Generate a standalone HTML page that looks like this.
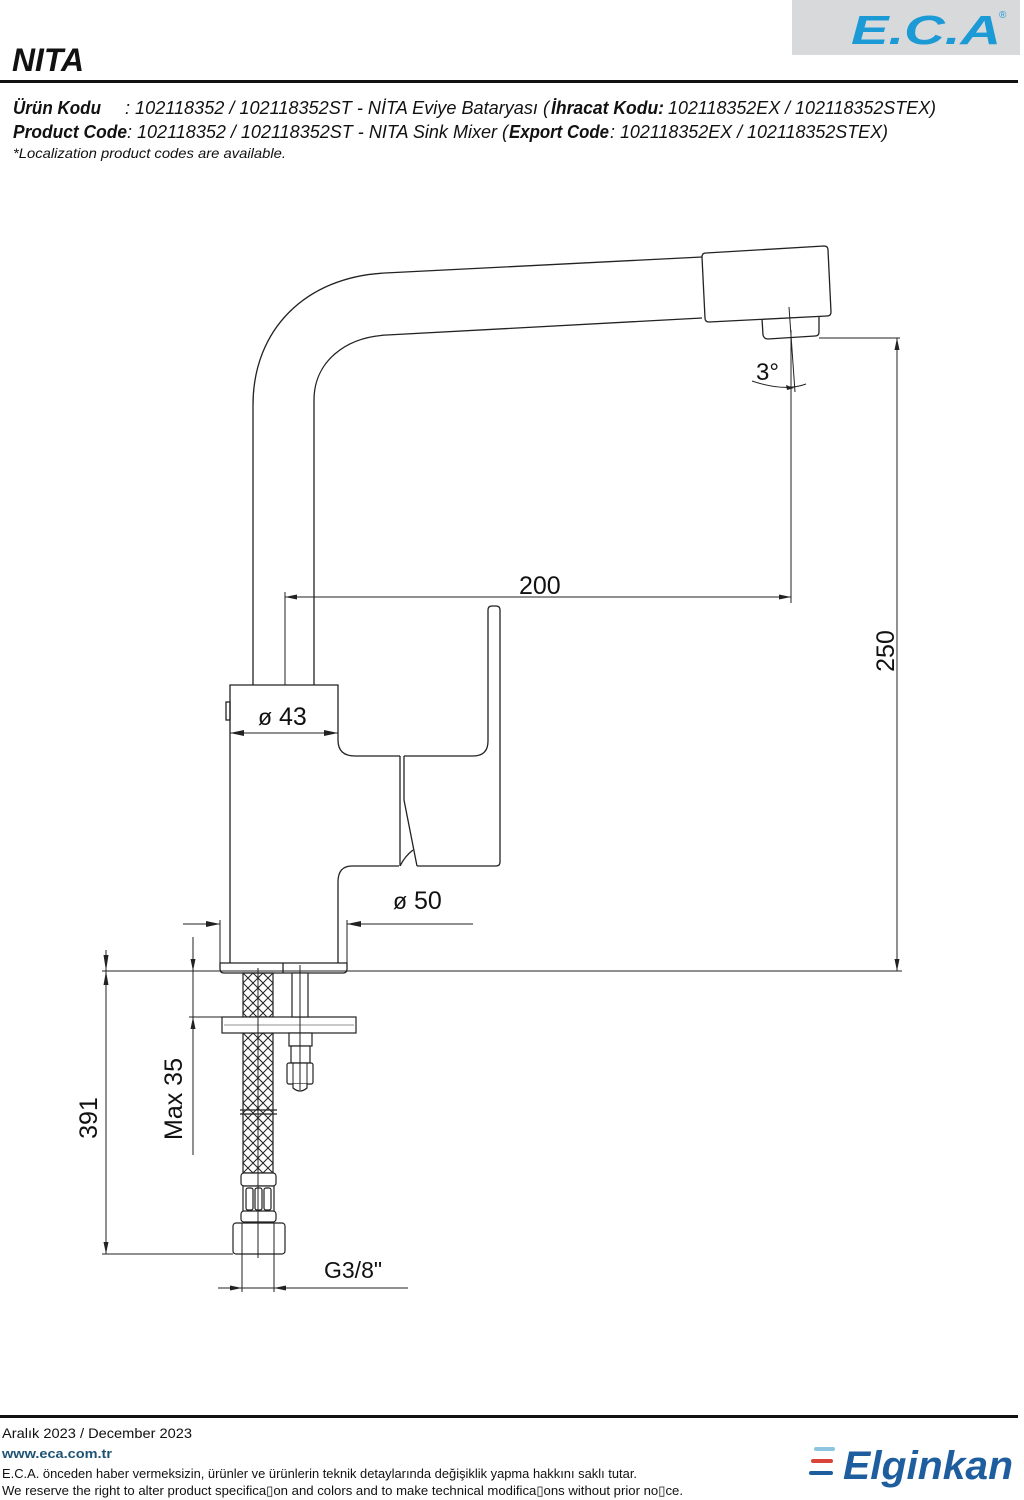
<!DOCTYPE html>
<html><head><meta charset="utf-8"><style>
html,body{margin:0;padding:0;background:#fff;}
svg{display:block;}
</style></head><body>
<svg width="1024" height="1500" viewBox="0 0 1024 1500" xmlns="http://www.w3.org/2000/svg">
<defs>
<pattern id="hatch" patternUnits="userSpaceOnUse" x="243" y="973" width="10" height="10">
<path d="M0,0 L10,10 M10,0 L0,10" stroke="#222" stroke-width="1" fill="none"/>
</pattern>
</defs>
<rect width="1024" height="1500" fill="#fff"/>
<!-- ECA logo -->
<rect x="792" y="0" width="228" height="55" fill="#d8d9db"/>
<text x="851" y="44" font-family="Liberation Sans, sans-serif" font-weight="bold" font-style="italic" font-size="41" fill="#1b9ad6" textLength="150" lengthAdjust="spacingAndGlyphs">E.C.A</text>
<text x="999" y="18" font-family="Liberation Sans, sans-serif" font-size="10" fill="#1b9ad6">®</text>

<!-- Title -->
<text x="12" y="71" font-family="Liberation Sans, sans-serif" font-weight="bold" font-style="italic" font-size="32" fill="#111" textLength="72" lengthAdjust="spacingAndGlyphs">NITA</text>
<rect x="0" y="80" width="1018" height="3" fill="#111"/>

<g font-family="Liberation Sans, 'Noto Sans CJK SC', sans-serif" font-style="italic" font-size="18" fill="#111">
<text x="13" y="114" font-weight="bold" textLength="88" lengthAdjust="spacingAndGlyphs">Ürün Kodu</text>
<text x="125" y="114" textLength="424" lengthAdjust="spacingAndGlyphs">: 102118352 / 102118352ST - NİTA Eviye Bataryası (</text>
<text x="551" y="114" font-weight="bold" textLength="113" lengthAdjust="spacingAndGlyphs">İhracat Kodu:</text>
<text x="668" y="114" textLength="268" lengthAdjust="spacingAndGlyphs">102118352EX / 102118352STEX)</text>
<text x="13" y="138" font-weight="bold" textLength="114" lengthAdjust="spacingAndGlyphs">Product Code</text>
<text x="127" y="138" textLength="381" lengthAdjust="spacingAndGlyphs">: 102118352 / 102118352ST - NITA Sink Mixer (</text>
<text x="509" y="138" font-weight="bold" textLength="100" lengthAdjust="spacingAndGlyphs">Export Code</text>
<text x="610" y="138" textLength="278" lengthAdjust="spacingAndGlyphs">: 102118352EX / 102118352STEX)</text>
<text x="13" y="158" font-size="14" textLength="273" lengthAdjust="spacingAndGlyphs">*Localization product codes are available.</text>
</g>

<!-- Drawing -->
<g fill="none" stroke="#222" stroke-width="1.3">
<path d="M253,685 L253,405 C253,330 305,277 385,273 L702,257"/>
<path d="M314,685 L314,400 C314,362 345,337 387,335 L702,318"/>
<path d="M706,253 L824,246 Q828,246 828,250 L831,312 Q831,316 827,316 L709,322 Q705,322 705,318 L702,257 Q702,253 706,253 Z"/>
<path d="M762,319 L763,335 Q764,339 768,339 L815,336 Q819,336 819,332 L819,316"/>
<path d="M230,963 L230,685 L338,685 L338,740 Q338,756 355,756 L400,756"/>
<rect x="226" y="702" width="4" height="18"/>
<path d="M338,963 L338,882 Q338,866 352,866 L399,866"/>
<path d="M400,756 L400,866"/>
<path d="M404,756 L404,800 L417,866"/>
<path d="M400,866 Q405,856 413,850"/>
<path d="M404,756 L473,756 Q488,756 488,741 L488,610 Q488,606 492,606 L496,606 Q500,606 500,610 L500,862 Q500,866 496,866 L417,866"/>
<path d="M220,963 L347,963 L347,969 Q347,973 343,973 L224,973 Q220,973 220,969 Z"/>
<line x1="283" y1="963" x2="283" y2="973"/>
</g>

<!-- hose -->
<g stroke="#222" stroke-width="1.2">
<rect x="243" y="973" width="30" height="44" fill="url(#hatch)"/>
<rect x="243" y="1033" width="30" height="140" fill="url(#hatch)"/>
<line x1="240" y1="1110" x2="277" y2="1110"/>
<line x1="240" y1="1114" x2="277" y2="1114"/>
</g>
<g fill="#fff" stroke="#222" stroke-width="1.2">
<rect x="222" y="1017" width="134" height="16"/>
<rect x="241" y="1173" width="35" height="13" rx="3"/>
<rect x="243" y="1186" width="31" height="26"/>
<rect x="241" y="1211" width="35" height="11" rx="3"/>
<rect x="246" y="1188" width="7" height="22" rx="2"/>
<rect x="255" y="1188" width="7" height="22" rx="2"/>
<rect x="264" y="1188" width="7" height="22" rx="2"/>
<rect x="233" y="1223" width="52" height="31" rx="3"/>
<rect x="292" y="973" width="16" height="44"/>
<rect x="289" y="1033" width="23" height="13"/>
<rect x="291" y="1046" width="19" height="17"/>
<rect x="287" y="1063" width="26" height="21" rx="2"/>
<path d="M293,1084 L293,1088 Q300,1094 307,1088 L307,1084"/>
</g>
<g stroke="#222" stroke-width="1" fill="none">
<line x1="242" y1="1223" x2="242" y2="1254"/>
<line x1="274" y1="1223" x2="274" y2="1254"/>
<line x1="258" y1="968" x2="258" y2="1258"/>
<line x1="300" y1="965" x2="300" y2="1090"/>
<line x1="293" y1="1063" x2="293" y2="1084"/>
<line x1="307" y1="1063" x2="307" y2="1084"/>
<line x1="224" y1="1025" x2="354" y2="1025" stroke-width="0.6"/>
</g>

<!-- dimensions -->
<g stroke="#222" stroke-width="1" fill="none">
<line x1="285" y1="592" x2="285" y2="685"/>
<line x1="791" y1="330" x2="791" y2="603"/>
<line x1="285" y1="597" x2="791" y2="597"/>
<line x1="789" y1="307" x2="795" y2="392"/>
<path d="M752,381 Q785,392 806,384"/>
<line x1="819" y1="338" x2="900" y2="338"/>
<line x1="897" y1="338" x2="897" y2="971"/>
<line x1="102" y1="971" x2="902" y2="971"/>
<line x1="230" y1="733" x2="338" y2="733"/>
<line x1="220" y1="920" x2="220" y2="963"/>
<line x1="347" y1="920" x2="347" y2="963"/>
<line x1="183" y1="924" x2="220" y2="924"/>
<line x1="347" y1="924" x2="473" y2="924"/>
<line x1="106" y1="950" x2="106" y2="1254"/>
<line x1="102" y1="1254" x2="233" y2="1254"/>
<line x1="193" y1="937" x2="193" y2="1155"/>
<line x1="189" y1="1017" x2="222" y2="1017"/>
<line x1="242" y1="1254" x2="242" y2="1292"/>
<line x1="274" y1="1254" x2="274" y2="1292"/>
<line x1="218" y1="1288" x2="408" y2="1288"/>
</g>
<g fill="#222" stroke="none">
<polygon points="285,597 297,594.5 297,599.5"/>
<polygon points="791,597 779,594.5 779,599.5"/>
<polygon points="897,338 894.5,350 899.5,350"/>
<polygon points="897,971 894.5,959 899.5,959"/>
<polygon points="230,733 244,730 244,736"/>
<polygon points="338,733 324,730 324,736"/>
<polygon points="220,924 206,921 206,927"/>
<polygon points="347,924 361,921 361,927"/>
<polygon points="106,971 103.5,955 108.5,955"/>
<polygon points="106,971 103.5,985 108.5,985"/>
<polygon points="106,1254 103.5,1242 108.5,1242"/>
<polygon points="193,971 190.5,959 195.5,959"/>
<polygon points="193,1017 190.5,1029 195.5,1029"/>
<polygon points="242,1288 230,1285.5 230,1290.5"/>
<polygon points="274,1288 286,1285.5 286,1290.5"/>
<polygon points="794,388 786,385 787,390"/>
</g>
<g font-family="Liberation Sans, sans-serif" fill="#111" font-size="25">
<text x="519" y="594">200</text>
<text x="756" y="380" font-size="24">3°</text>
<text x="258" y="725"><tspan font-size="23">ø</tspan> 43</text>
<text x="393" y="909"><tspan font-size="23">ø</tspan> 50</text>
<text x="324" y="1278" font-size="23">G3/8"</text>
<text x="894" y="651" text-anchor="middle" transform="rotate(-90 894 651)">250</text>
<text x="97" y="1118" text-anchor="middle" transform="rotate(-90 97 1118)">391</text>
<text x="182" y="1099" text-anchor="middle" transform="rotate(-90 182 1099)">Max 35</text>
</g>

<!-- Footer -->
<rect x="0" y="1415" width="1018" height="3" fill="#111"/>
<g font-family="Liberation Sans, 'Noto Sans CJK SC', sans-serif" fill="#111" font-size="14">
<text x="2" y="1438" textLength="190" lengthAdjust="spacingAndGlyphs">Aralık 2023 / December 2023</text>
<text x="2" y="1458" font-weight="bold" fill="#1f5373" font-size="13" textLength="110" lengthAdjust="spacingAndGlyphs">www.eca.com.tr</text>
<text x="2" y="1478" font-size="13" textLength="635" lengthAdjust="spacingAndGlyphs">E.C.A. önceden haber vermeksizin, ürünler ve ürünlerin teknik detaylarında değişiklik yapma hakkını saklı tutar.</text>
<text x="2" y="1495" font-size="13" textLength="681" lengthAdjust="spacingAndGlyphs">We reserve the right to alter product specifica▯on and colors and to make technical modifica▯ons without prior no▯ce.</text>
</g>
<rect x="814" y="1447" width="21" height="4" rx="2" fill="#8ec5e0"/>
<rect x="811" y="1459" width="22" height="4" rx="2" fill="#d9453a"/>
<rect x="809" y="1471" width="24" height="4" rx="2" fill="#1f5e9e"/>
<text x="843" y="1479" font-family="Liberation Sans, sans-serif" font-weight="bold" font-style="italic" font-size="40" fill="#1e5e9e" textLength="170" lengthAdjust="spacingAndGlyphs">Elginkan</text>
</svg>
</body></html>
